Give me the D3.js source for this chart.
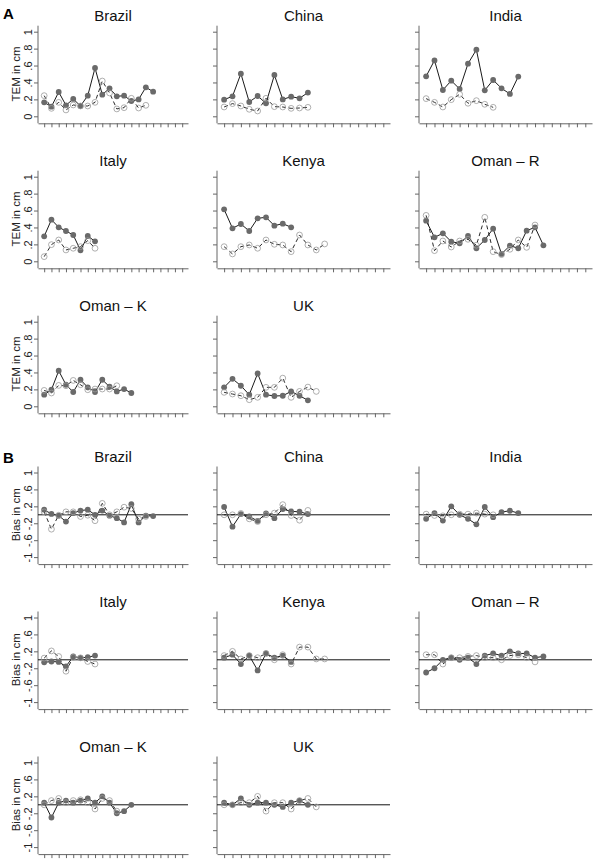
<!DOCTYPE html>
<html>
<head>
<meta charset="utf-8">
<script src="https://cdn.jsdelivr.net/npm/d3@7"></script>
<style>
body { margin: 0; background: #fff; }
svg { display: block; font-family: "Liberation Sans", Arial, sans-serif; }
</style>
</head>
<body>
<svg id="chart" width="601" height="867"></svg>
<script>
var countries = ["Brazil", "China", "India", "Italy", "Kenya", "Oman \u2013 R", "Oman \u2013 K", "UK"];

// TEM, filled (solid line) and open (dashed line) series, one list per country
var temFilled = [
    [0.165, 0.114, 0.287, 0.13, 0.205, 0.122, 0.244, 0.571, 0.256, 0.331, 0.236, 0.244, 0.181, 0.2, 0.343, 0.291],
    [0.197, 0.236, 0.504, 0.169, 0.24, 0.154, 0.488, 0.2, 0.232, 0.213, 0.28],
    [0.472, 0.661, 0.311, 0.421, 0.323, 0.622, 0.787, 0.307, 0.429, 0.331, 0.264, 0.469],
    [0.295, 0.492, 0.402, 0.358, 0.311, 0.13, 0.299, 0.236],
    [0.614, 0.39, 0.441, 0.358, 0.508, 0.52, 0.421, 0.445, 0.402],
    [0.48, 0.283, 0.331, 0.232, 0.213, 0.299, 0.154, 0.252, 0.386, 0.087, 0.185, 0.154, 0.362, 0.402, 0.189],
    [0.137, 0.196, 0.42, 0.255, 0.169, 0.314, 0.224, 0.169, 0.314, 0.231, 0.176, 0.204, 0.157],
    [0.224, 0.325, 0.243, 0.137, 0.388, 0.137, 0.122, 0.125, 0.176, 0.125, 0.071]
];
var temOpen = [
    [0.244, 0.094, 0.165, 0.075, 0.134, 0.122, 0.122, 0.165, 0.417, 0.276, 0.087, 0.102, 0.213, 0.098, 0.13],
    [0.11, 0.15, 0.122, 0.083, 0.063, 0.213, 0.114, 0.11, 0.094, 0.098, 0.106],
    [0.209, 0.165, 0.11, 0.197, 0.26, 0.154, 0.185, 0.142, 0.106],
    [0.055, 0.197, 0.252, 0.134, 0.154, 0.173, 0.244, 0.154],
    [0.173, 0.087, 0.173, 0.193, 0.154, 0.252, 0.201, 0.193, 0.114, 0.311, 0.193, 0.134, 0.205],
    [0.543, 0.126, 0.24, 0.169, 0.24, 0.26, 0.19, 0.52, 0.114, 0.079, 0.142, 0.252, 0.165, 0.429],
    [0.188, 0.157, 0.247, 0.243, 0.306, 0.255, 0.196, 0.204, 0.204, 0.204, 0.243],
    [0.165, 0.145, 0.125, 0.078, 0.106, 0.224, 0.224, 0.333, 0.106, 0.176, 0.227, 0.176]
];

// Bias, same two series
var biasFilled = [
    [0.12, 0.02, -0.02, -0.16, 0.04, 0.1, 0.12, 0.0, 0.1, -0.02, -0.08, -0.18, 0.25, -0.18, -0.02, -0.03],
    [0.184, -0.28, 0.016, -0.04, -0.144, 0.032, -0.08, 0.136, 0.08, 0.072, 0.016],
    [-0.096, 0.04, -0.136, 0.2, 0.0, -0.096, -0.224, 0.184, -0.056, 0.064, 0.096, 0.04],
    [-0.06, -0.04, -0.05, -0.156, 0.078, 0.047, 0.06, 0.1],
    [0.05, 0.12, -0.1, 0.1, -0.25, 0.15, 0.05, 0.1, -0.05],
    [-0.3, -0.2, 0.0, 0.05, 0.0, 0.05, -0.1, 0.1, 0.15, 0.1, 0.2, 0.15, 0.15, 0.05, 0.08],
    [0.05, -0.3, 0.05, 0.1, 0.05, 0.1, 0.15, 0.05, 0.2, 0.05, -0.2, -0.15, 0.0],
    [0.05, 0.0, 0.15, 0.0, 0.05, 0.05, 0.0, -0.05, 0.05, 0.1, 0.0]
];
var biasOpen = [
    [0.07, -0.34, -0.01, 0.07, 0.07, -0.04, -0.01, -0.14, 0.27, 0.0, 0.07, 0.18, 0.15, -0.1, -0.04],
    [0.0, 0.0, 0.032, -0.096, -0.16, 0.0, 0.04, 0.24, -0.016, -0.128, 0.104],
    [0.016, -0.016, -0.024, 0.0, 0.016, 0.016, 0.04, 0.016, 0.0],
    [0.04, 0.21, 0.078, -0.27, 0.06, 0.047, -0.04, -0.1],
    [0.1, 0.2, 0.02, 0.1, 0.05, 0.15, 0.0, 0.12, -0.1, 0.3, 0.3, 0.02, 0.02],
    [0.12, 0.12, -0.1, 0.05, 0.05, 0.08, 0.1, 0.05, 0.05, 0.0, 0.1, 0.12, 0.05, -0.05],
    [0.0, 0.1, 0.15, 0.05, 0.1, 0.12, 0.05, -0.1, 0.15, 0.1, -0.15],
    [0.0, 0.0, 0.05, 0.05, 0.2, -0.15, 0.05, 0.05, -0.1, 0.1, 0.15, -0.05]
];

var xTicks = d3.range(1, 21);
var temTicks = [0, 0.2, 0.4, 0.6, 0.8, 1],
    temTickLabels = ["0", ".2", ".4", ".6", ".8", "1"];
var biasTicks = [-1, -0.6, -0.2, 0.2, 0.6, 1],
    biasTickLabels = ["-1", "-.6", "-.2", ".2", ".6", "1"];

var svg = d3.select("#chart"),
    colLeft = [38, 217, 419],
    colRight = [188, 390, 592],
    temRowTop = [31.7, 176.7, 321.7],
    biasRowTop = [472.5, 617.5, 762.5],
    plotH = 84.6,
    markR = 2.9;

function drawPanel(i, sec) {
    var col = i % 3,
        row = Math.floor(i / 3),
        isTem = sec === "A",
        top = isTem ? temRowTop[row] : biasRowTop[row],
        left = colLeft[col],
        right = colRight[col],
        filled = isTem ? temFilled[i] : biasFilled[i],
        open = isTem ? temOpen[i] : biasOpen[i],
        bottom = top + plotH;

    var x = d3.scaleLinear().domain([0.15, 20.8]).range([left, right]);
    var y = d3.scaleLinear().domain(isTem ? [0, 1] : [-1, 1]).range([bottom, top]);

    var g = svg.append("g").attr("class", "panel");

    // title
    g.append("text")
     .attr("x", (left + right) / 2)
     .attr("y", top - 11)
     .attr("text-anchor", "middle")
     .style("font-size", "15px")
     .style("fill", "#111")
     .text(countries[i]);

    // y axis
    var yAxis = d3.axisLeft(y)
                  .tickValues(isTem ? temTicks : biasTicks)
                  .tickSize(4)
                  .tickSizeOuter(0)
                  .tickFormat(function(d, k) {
                      if (col !== 0) return "";
                      return isTem ? temTickLabels[k] : biasTickLabels[k];
                  });
    var ya = g.append("g").attr("transform", "translate(" + left + ",0)").call(yAxis);
    ya.select(".domain").remove();
    ya.selectAll("line").attr("stroke", "#666");
    ya.selectAll("text")
      .attr("transform", "rotate(-90)")
      .attr("x", 0)
      .attr("y", -6)
      .attr("dy", 0)
      .style("text-anchor", "middle")
      .style("font-size", "11px")
      .style("font-family", "inherit")
      .style("fill", "#222");
    g.append("line")
     .attr("x1", left).attr("x2", left)
     .attr("y1", top - 6).attr("y2", bottom + 7)
     .attr("stroke", "#666");

    if (col === 0) {
        g.append("text")
         .attr("transform", "translate(" + (left - 18) + "," + ((top + bottom) / 2) + ") rotate(-90)")
         .attr("text-anchor", "middle")
         .style("font-size", "11.5px")
         .style("fill", "#222")
         .text(isTem ? "TEM in cm" : "Bias in cm");
    }

    // x axis, unlabeled ticks
    var xAxis = d3.axisBottom(x).tickValues(xTicks).tickSize(4).tickSizeOuter(0).tickFormat("");
    var xa = g.append("g").attr("transform", "translate(0," + (bottom + 7) + ")").call(xAxis);
    xa.selectAll("line, path").attr("stroke", "#666");

    if (!isTem) {
        g.append("line")
         .attr("x1", left).attr("x2", right)
         .attr("y1", y(0)).attr("y2", y(0))
         .attr("stroke", "#111")
         .attr("stroke-width", 1);
    }

    var line = d3.line()
                 .x(function(d, k) { return x(k + 1); })
                 .y(function(d) { return y(d); });

    g.append("path")
     .datum(open)
     .attr("d", line)
     .attr("fill", "none")
     .attr("stroke", "#111")
     .attr("stroke-width", 0.9)
     .attr("stroke-dasharray", "4,3");

    g.append("path")
     .datum(filled)
     .attr("d", line)
     .attr("fill", "none")
     .attr("stroke", "#1a1a1a")
     .attr("stroke-width", 1);

    g.selectAll(".dotF")
     .data(filled)
     .enter().append("circle")
     .attr("class", "dotF")
     .attr("cx", function(d, k) { return x(k + 1); })
     .attr("cy", function(d) { return y(d); })
     .attr("r", markR)
     .attr("fill", "#6a6a6a");

    g.selectAll(".dotO")
     .data(open)
     .enter().append("circle")
     .attr("class", "dotO")
     .attr("cx", function(d, k) { return x(k + 1); })
     .attr("cy", function(d) { return y(d); })
     .attr("r", markR)
     .attr("fill", "none")
     .attr("stroke", "#9a9a9a")
     .attr("stroke-width", 0.8);
}

countries.forEach(function(c, i) { drawPanel(i, "A"); });
countries.forEach(function(c, i) { drawPanel(i, "B"); });

svg.append("text").attr("x", 3).attr("y", 19)
   .style("font-size", "15px").style("font-weight", "bold").text("A");
svg.append("text").attr("x", 3).attr("y", 463)
   .style("font-size", "15px").style("font-weight", "bold").text("B");
</script>
</body>
</html>
